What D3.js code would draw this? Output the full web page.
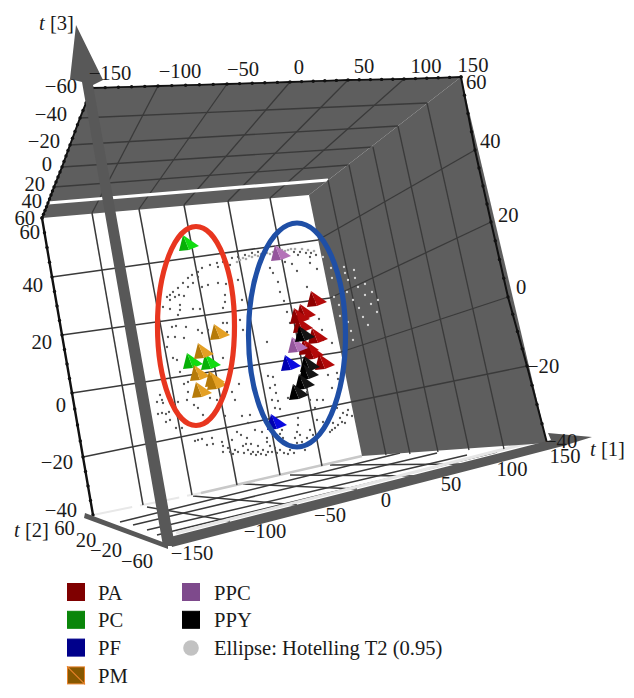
<!DOCTYPE html>
<html>
<head>
<meta charset="utf-8">
<script src="https://cdn.jsdelivr.net/npm/d3@7"></script>
<style>
  body { margin: 0; background: #fff; }
  text { font-family: "Liberation Serif", serif; font-size: 20.6px; fill: #1a1a1a; }
</style>
</head>
<body>
<div id="chart"></div>
<script>
/* OPLS-DA style 3D score plot, flattened to the view the picture was taken from */

const t1Ticks = [-150, -100, -50, 0, 50, 100, 150];
const t2Ticks = [-60, -40, -20, 0, 20, 40, 60];
const t3Ticks = [60, 40, 20, 0, -20, -40];
const t2FloorTicks = [-60, -20, 20, 60];

const pa = [[105, 30], [94, 23.5], [88, 21.5], [91, 17], [106, 11.5], [97, 6], [102, 3.5], [113, -1.5]];
const pc = [[-23, 58], [-19, -1], [-1, -1.5]];
const pf = [[79, -2], [65, -31.5]];
const pm = [[8, 13.5], [-8, 4], [-12, -7], [3, -10], [5, -11.5], [-10, -15.5]];
const ppc = [[69, 53], [86, 7]];
const ppy = [[93, 12.5], [98, -2.5], [97, -6.5], [93, -11.5], [87, -16.5]];

// Hotelling T2 ellipsoid surface points, those in front of the white wall
const ellipseDots = [
  [-43, 31.5], [-40, 32.5], [-37, 34], [-32, 36], [-27, 38.5], [-22, 41], [-18, 42.5], [-12, 44], [-8, 46], [0, 47.5],
  [7, 48.5], [13, 49], [22, 51], [28, 51.5], [35, 52.5], [42, 53.5], [48, 54], [55, 54], [-40, 30], [-35, 31.5],
  [-31, 32.5], [-26, 32], [-22, 36.5], [-17, 38.5], [-12, 41.5], [-8, 36.5], [-2, 37.5], [8, 38.5], [16, 38], [15, 32.5],
  [15, 29], [-47, 26.5], [-40, 25.5], [-30, 27.5], [-30, 25], [-17, 25.5], [-10, 25.5], [13, 26], [-32, 22.5], [-38, 16.5],
  [-34, 17], [-24, 16.5], [-12, 15], [13, 18.5], [17, 18.5], [-42, 11.5], [-35, 11.5], [-26, 11], [-43, 6.5], [-8, 13.5],
  [-2, 15], [17, 14], [30, 20], [33, 15], [28, 40], [32, 30], [8, 46.5], [20, 47.5], [17, 44],
  [84, 54], [90, 54], [96, 53.5], [101, 53.5], [106, 52.5], [88, 52.5], [100, 51.5], [82, 48], [60, 46], [63, 43.5],
  [87, 44.5], [100, 48.5], [107, 45.5], [75, 49], [68, 39], [70, 34], [97, 36.5], [74, 29.5], [77, 24], [80, 18.5],
  [109, 20.5], [112, 15], [57, 9], [113, 10], [122, 8.5],
  [-50, -17.5], [-53, -21], [-47, -21.5], [-52, -27], [-48, -26.5], [-41, -26], [-44, -31], [-40, -30], [-37, 1], [-33, 0],
  [-30, -6], [-26, -12], [-22, -11], [-22, -16], [-16, -22.5], [-12, -24], [-7, -27.5], [-32, -21], [-23, -20], [0, -19],
  [7, -20], [22, -16], [29, -12], [25, -20], [15, -28], [32, -28], [40, -27.5], [13, 1], [-34, -34], [-28, -34],
  [-15, -40.5], [-12, -40], [-8, -39.5], [2, -39], [-3, -42.5], [3, -42], [12, -41], [13, -43], [18, -44], [22, -40],
  [25, -45], [27, -36], [31, -37.5], [37, -39], [33, -43], [38, -45], [43, -46], [48, -43], [53, -45], [58, -46],
  [48, -46], [45, -35], [52, -36], [38, -31.5], [55, -31], [57, -39], [23, -47], [13, -46],
  [58, -8], [63, -8.5], [65, -12.5], [60, -14], [66, -16.5], [62, -20], [68, -20.5], [65, -24], [70, -24.5], [78, -19],
  [97, -16], [100, -20], [107, -20], [113, -20], [122, -14], [118, -7.5], [127, -6.5], [128, -9.5], [105, -24], [88, -29],
  [88, -32.5], [87, -36], [90, -37.5], [107, -30], [113, -31], [112, -36], [100, -35], [97, -39], [98, -42.5], [92, -41],
  [85, -39], [87, -41.5], [82, -42.5], [77, -42.5], [73, -39], [72, -35], [70, -37], [57, -41], [60, -43], [65, -44],
  [70, -45], [80, -45], [102, -40], [103, -37.5], [122, -35], [125, -34], [128, -32.5], [132, -31], [137, -27.5], [133, -26.5],
  [130, -29], [138, -25], [142, -28], [135, -31.5], [127, -24], [123, -31.5], [120, -36],
  [28, -46], [34, -46.5], [41, -47], [46, -47.5], [51, -47], [56, -47.5], [62, -46], [67, -46.5], [74, -46.5], [78, -47],
  [84, -46.5], [90, -44], [95, -45], [-48, -20], [-44, -27], [20, -46], [36, -42], [41, -42]
];
// the rim of the ellipsoid along the top, seen nearly edge on
const ellipseRim = [
  [27, 49], [30, 50], [33, 51], [36, 50.5], [39, 52], [42, 51.5], [45, 52.5], [48, 52], [51, 53], [54, 52.5],
  [57, 53.5], [60, 53], [63, 54], [66, 54.5], [72, 55], [75, 54.5], [78, 55], [81, 55.5], [85, 55.5], [92, 55.5],
  [98, 55], [104, 54.5]
];
// same ellipsoid, but the points that fall over the grey wall
const ellipseDotsOnWall = [
  [113, 51.5], [121, 46], [122, 41], [134, 46.5], [135, 43.5], [138, 40], [144, 45], [145, 41], [137, 34], [148, 36.5],
  [155, 38], [124, 31.5], [129, 27.5], [143, 30], [149, 26], [155, 32.5], [162, 34], [161, 28], [167, 24], [153, 21.5],
  [138, 19], [141, 14.5], [158, 17.5], [143, 10], [130, 22], [168, 30]
];

// drawn annotations [t1, t3, radius in t1, radius in t3]
const redRing = [-14, 17, 38.5, 49.75];
const blueRing = [87, 12.5, 48.5, 56];

const series = [
  { name: "PA", data: pa, main: "#8e0000", light: "#b30a0a", box: "#7f0000", edge: "#7f0000" },
  { name: "PC", data: pc, main: "#06b006", light: "#10dc10", box: "#0a860a", edge: "#0a860a" },
  { name: "PF", data: pf, main: "#0000b0", light: "#0a0ae0", box: "#00008b", edge: "#00008b" },
  { name: "PM", data: pm, main: "#b67a08", light: "#e4a024", box: "#875800", edge: "#e8822a" },
  { name: "PPC", data: ppc, main: "#94559c", light: "#b472b8", box: "#7e4a8c", edge: "#7e4a8c" },
  { name: "PPY", data: ppy, main: "#000000", light: "#141414", box: "#000000", edge: "#000000" }
];

const width = 634,
  height = 698;

const svg = d3.select("#chart").append("svg").attr("width", width).attr("height", height);

// the box is oblique, so each edge gets its own pair of scales
function edge(domain, pts) {
  const x = d3.scaleLinear().domain(domain).range(pts.map((p) => p[0]));
  const y = d3.scaleLinear().domain(domain).range(pts.map((p) => p[1]));
  return (v) => [x(v), y(v)];
}

const ceilBack = edge(t1Ticks, [[92, 88], [158, 86], [227, 84], [290, 82], [348, 80], [404, 79], [461, 77]]);
const ceilFront = edge(t1Ticks, [[42, 218], [92, 213], [139, 209], [184, 205], [228, 201], [270, 198], [309, 195]]);
const ceilLeft = edge(t2Ticks, [[92, 88], [80, 118], [70, 145], [62, 167], [54, 187], [48, 203], [42, 218]]);
const ceilRight = edge(t2Ticks, [[461, 77], [427, 103], [398, 126], [373, 147], [349, 165], [328, 180], [309, 195]]);
const wallLeft = edge(t3Ticks, [[42, 218], [52, 277], [62, 335], [72, 393], [83, 457], [93, 515]]);
const wallRight = edge(t3Ticks, [[309, 195], [318, 240], [330, 298], [341, 352], [351, 402], [362, 456]]);
const wallBottom = edge(t1Ticks, [[93, 515], [143, 505], [192, 495], [237, 485], [280, 475], [322, 466], [362, 456]]);
const rightOuter = edge(t3Ticks, [[461, 77], [475, 150], [491, 222], [508, 297], [527, 366], [547, 443]]);
const rightBottom = edge(t2Ticks, [[547, 443], [504, 449], [469, 450], [438, 452], [410, 454], [386, 455], [362, 456]]);

const floorGridT2 = [-40, -20, 0, 20];
const floorLeft = edge(floorGridT2, [[157, 535], [147, 530], [133, 525], [120, 522]]);
const floorRight = edge(floorGridT2, [[497, 452], [467, 455], [437, 453], [400, 453]]);
const floorGridT1 = [-100, -50, 0, 50, 100];
const floorBack = edge(floorGridT1, [[147, 507], [193, 496], [243, 484], [290, 475], [330, 465]]);
const floorNear = edge(floorGridT1, [[230, 521], [297, 505], [357, 489], [420, 476], [470, 464]]);

// screen scales for the scores in this view
const xView = d3.scaleLinear().domain([-150, 150]).range([60, 360]);
const yView = d3.scaleLinear().domain([-60, 60]).range([480, 240]);

const poly = d3.line().curve(d3.curveLinearClosed);
const wallColor = "#5e5e5e",
  gridColor = "#3a3a3a",
  axisGrey = "#585858";

/* floor */
const gridG = svg.append("g");

function segs(g, ticks, a, b, color, w) {
  g.selectAll(null)
    .data(ticks)
    .enter()
    .append("line")
    .attr("x1", (d) => a(d)[0])
    .attr("y1", (d) => a(d)[1])
    .attr("x2", (d) => b(d)[0])
    .attr("y2", (d) => b(d)[1])
    .attr("stroke", color)
    .attr("stroke-width", w);
}

segs(gridG, floorGridT2, floorLeft, floorRight, gridColor, 1.5);
segs(gridG, floorGridT1, floorBack, floorNear, gridColor, 1.5);

// where the wall meets the floor it fades out
gridG.append("line")
  .attr("x1", wallBottom(-150)[0]).attr("y1", wallBottom(-150)[1])
  .attr("x2", wallBottom(-40)[0]).attr("y2", wallBottom(-40)[1])
  .attr("stroke", "#e8e8e8").attr("stroke-width", 2).attr("stroke-dasharray", "40 8");
gridG.append("line")
  .attr("x1", wallBottom(-40)[0]).attr("y1", wallBottom(-40)[1])
  .attr("x2", wallBottom(150)[0]).attr("y2", wallBottom(150)[1])
  .attr("stroke", "#c8c8c8").attr("stroke-width", 2.5);

/* ceiling */
svg.append("path")
  .attr("d", poly([ceilBack(-150), ceilBack(150), ceilRight(60), ceilFront(-150)]))
  .attr("fill", wallColor);
segs(svg, t1Ticks.slice(1, -1), ceilBack, ceilFront, gridColor, 1.3);
segs(svg, t2Ticks.slice(1, -1), ceilLeft, ceilRight, gridColor, 1.3);
svg.append("line")
  .attr("x1", ceilLeft(40)[0]).attr("y1", ceilLeft(40)[1])
  .attr("x2", ceilRight(40)[0]).attr("y2", ceilRight(40)[1])
  .attr("stroke", "#fff").attr("stroke-width", 3.2);

/* back wall grid */
segs(svg, t3Ticks.slice(1, -1), wallLeft, wallRight, gridColor, 1.5);
segs(svg, t1Ticks.slice(1, -1), ceilFront, wallBottom, gridColor, 1.5);

/* right wall */
svg.append("path")
  .attr("d", poly([rightOuter(60), rightOuter(-40), wallRight(-40), wallRight(60)]))
  .attr("fill", wallColor);
segs(svg, t3Ticks.slice(1, -1), wallRight, rightOuter, gridColor, 1.3);
segs(svg, t2Ticks.slice(1, -1), ceilRight, rightBottom, gridColor, 1.3);

/* black axis edges with their minor ticks */
const edgeG = svg.append("g");
function axisEdge(a, from, to, step, w) {
  const line = d3.line();
  const vals = d3.range(from, to + step / 2, step);
  edgeG.append("path")
    .attr("d", line(vals.map(a)))
    .attr("fill", "none")
    .attr("stroke", "#111")
    .attr("stroke-width", w);
  edgeG.selectAll(null)
    .data(vals)
    .enter()
    .append("circle")
    .attr("cx", (d) => a(d)[0])
    .attr("cy", (d) => a(d)[1])
    .attr("r", 1.7)
    .attr("fill", "#111");
}
axisEdge(ceilBack, -150, 150, 10, 1.8);
axisEdge(ceilLeft, -60, 60, 5, 2);
axisEdge(wallLeft, -40, 60, 5, 2.4);
axisEdge(rightOuter, -40, 60, 5, 2);

/* ellipsoid points */
function dots(data, r, color) {
  svg.append("g").selectAll("circle")
    .data(data)
    .enter()
    .append("circle")
    .attr("cx", (d) => xView(d[0]))
    .attr("cy", (d) => yView(d[1]))
    .attr("r", r)
    .attr("fill", color);
}
dots(ellipseRim, 1.3, "#a8a8a8");
dots(ellipseDots, 1.15, "#555");
dots(ellipseDotsOnWall, 1.15, "#d8d8d8");

/* the sample pyramids */
const faceMain = [[-4, -9], [-8, 7], [2, 6]];
const faceSide = [[-4, -9], [2, 6], [12, 2]];
series.forEach((s) => {
  const g = svg.append("g").selectAll("g")
    .data(s.data)
    .enter()
    .append("g")
    .attr("transform", (d) => `translate(${xView(d[0])},${yView(d[1])})`);
  g.append("path").attr("d", poly(faceMain)).attr("fill", s.main);
  g.append("path").attr("d", poly(faceSide)).attr("fill", s.light);
});

/* rings */
[[redRing, "#e8361f"], [blueRing, "#1f4fa6"]].forEach(([r, col]) => {
  svg.append("ellipse")
    .attr("cx", xView(r[0]))
    .attr("cy", yView(r[1]))
    .attr("rx", xView(r[2]) - xView(0))
    .attr("ry", yView(0) - yView(r[3]))
    .attr("fill", "none")
    .attr("stroke", col)
    .attr("stroke-width", 5.2);
});

/* big grey axes */
const t3Arrow = [[163, 546], [175, 546], [93, 85], [103, 80], [76, 25], [70, 79], [82, 82]];
const t1Arrow = [[170, 537], [551, 440], [548, 433], [592, 437], [563, 446], [172, 547]];
const t2Bar = [[85, 513], [168, 544], [168, 549], [84, 518]];
gridG.append("line")
  .attr("x1", 176).attr("y1", 533).attr("x2", 540).attr("y2", 440)
  .attr("stroke", "#e6e6e6").attr("stroke-width", 3);
[t1Arrow, t2Bar, t3Arrow].forEach((p) => {
  svg.append("path").attr("d", poly(p)).attr("fill", axisGrey);
});

/* tick labels */
function labels(vals, at, anchor) {
  svg.append("g").selectAll("text")
    .data(vals)
    .enter()
    .append("text")
    .attr("text-anchor", anchor)
    .attr("x", (d) => at(d)[0])
    .attr("y", (d) => at(d)[1])
    .text((d) => d3.format("")(d).replace("-", "\u2212"));
}

labels(t1Ticks, edge(t1Ticks, [[110, 80], [180, 78], [243, 76], [299, 74], [364, 73], [426, 73], [473, 72]]), "middle");
labels(t2Ticks, edge(t2Ticks, [[77, 93], [67, 121], [60, 148], [52, 171], [45, 191], [42, 208], [35, 225]]), "end");
labels(t3Ticks, edge(t3Ticks, [[40, 239], [43, 292], [52, 349], [66, 412], [73, 469], [77, 517]]), "end");
labels(t3Ticks, edge(t3Ticks, [[466, 89], [480, 148], [498, 222], [516, 294], [527, 373], [545, 448]]), "start");
labels(t2FloorTicks.slice().reverse(), edge([60, 20, -20, -60], [[64.5, 535], [86, 547], [106, 557], [137, 568]]), "middle");
labels(t1Ticks, edge(t1Ticks, [[192, 560], [265, 538], [330, 522], [386, 507], [451, 491], [512, 476], [565, 463]]), "middle");

/* axis titles */
[["1", 590, 456], ["2", 14, 537], ["3", 39, 30]].forEach(([n, x, y]) => {
  const t = svg.append("text").attr("x", x).attr("y", y);
  t.append("tspan").attr("font-style", "italic").text("t");
  t.append("tspan").text(" [" + n + "]");
});

/* legend */
const legendG = svg.append("g");
series.forEach((s, i) => {
  const col = i < 4 ? 0 : 1,
    row = i < 4 ? i : i - 4,
    x = col ? 182 : 67,
    y = 583 + row * 27.8;
  legendG.append("rect")
    .attr("x", x + 0.5).attr("y", y + 0.5)
    .attr("width", 17).attr("height", 17)
    .attr("fill", s.box).attr("stroke", s.edge);
  if (s.name == "PM") {
    legendG.append("line")
      .attr("x1", x).attr("y1", y).attr("x2", x + 18).attr("y2", y + 18)
      .attr("stroke", s.edge).attr("stroke-width", 1.2);
  }
  legendG.append("text").attr("x", col ? 214 : 98).attr("y", y + 16.5).text(s.name);
});
legendG.append("circle").attr("cx", 191).attr("cy", 648).attr("r", 7.8).attr("fill", "#c2c2c2");
legendG.append("text").attr("x", 214).attr("y", 655).text("Ellipse: Hotelling T2 (0.95)");
</script>
</body>
</html>
